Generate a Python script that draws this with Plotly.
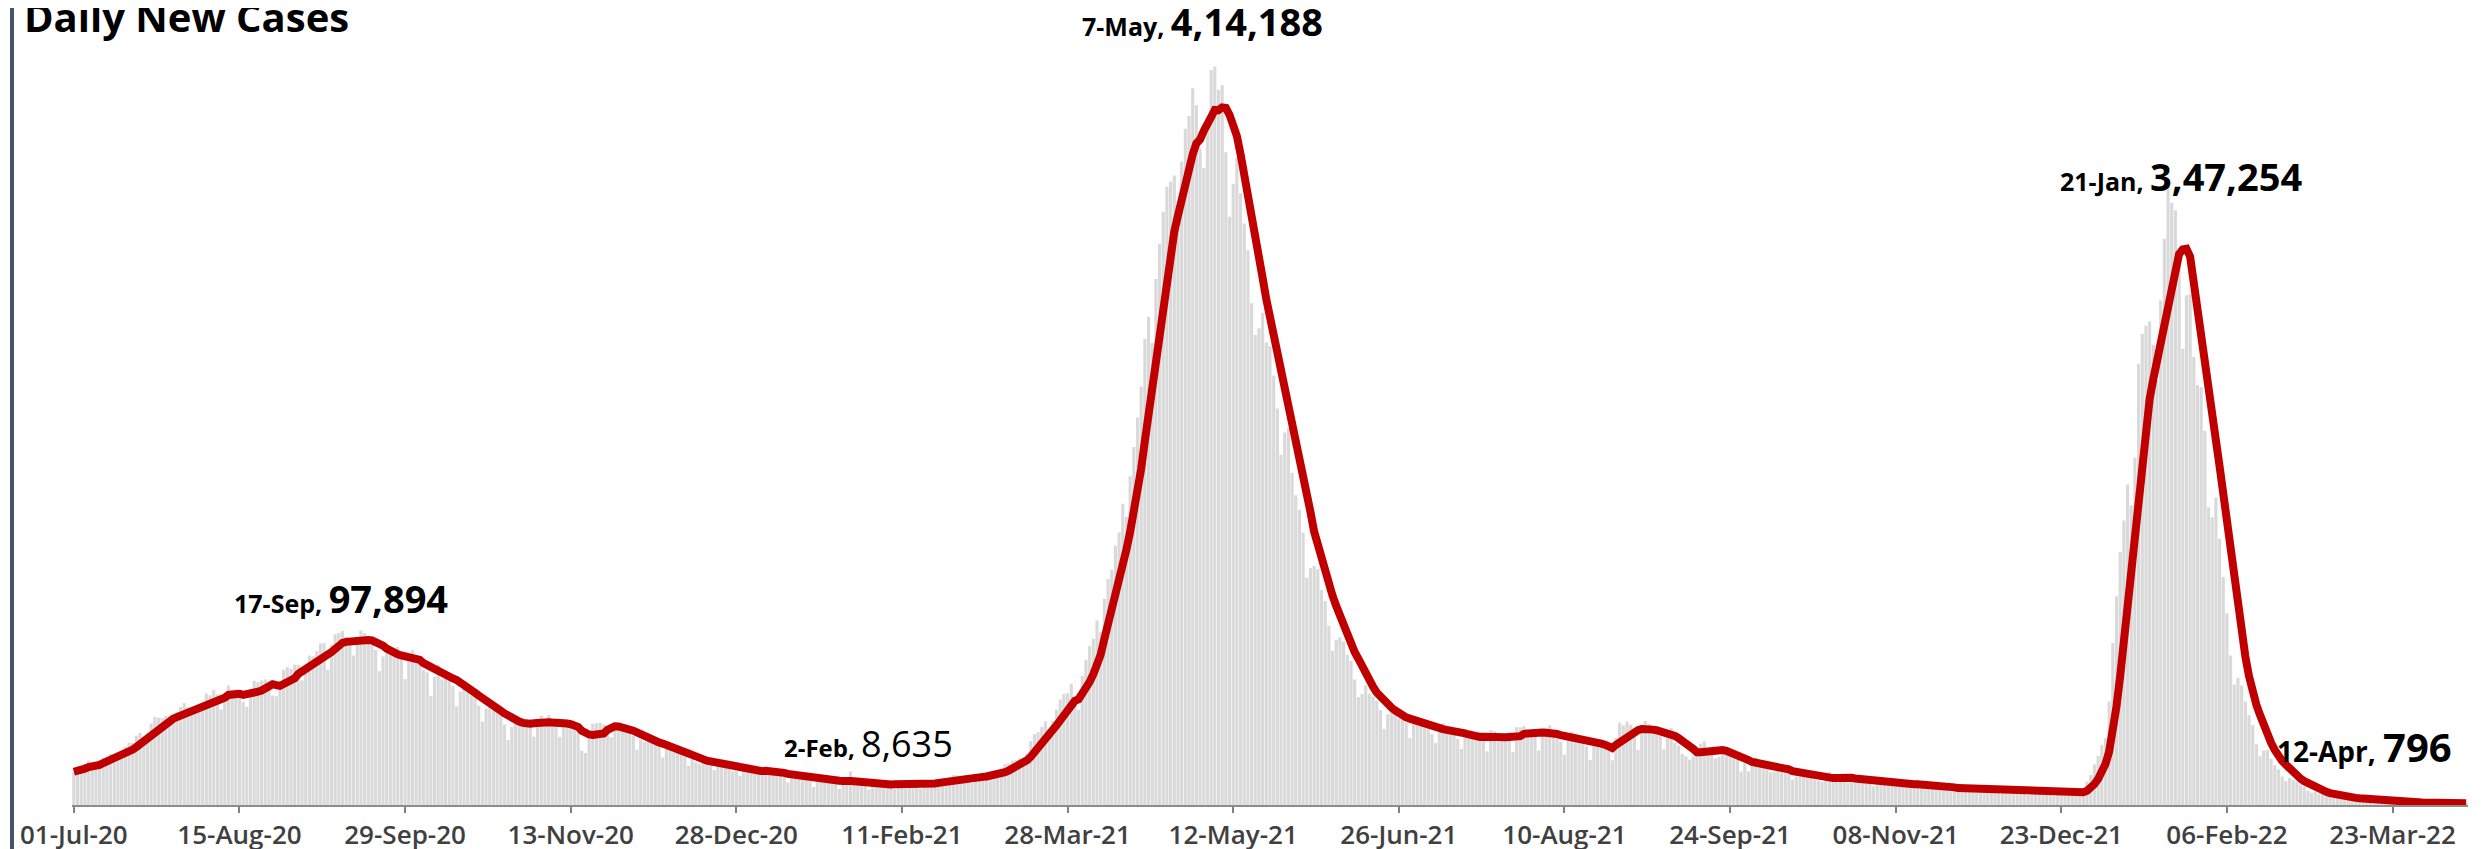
import pandas as pd
import plotly.graph_objects as go

# ---- Daily new cases (India), 01-Jul-20 .. 12-Apr-22 ----
jul20 = [18653, 19148, 20903, 22771, 24850, 22252, 22752, 24879, 26506, 27114,
         28637, 28701, 28498, 29429, 32695, 34956, 34884, 38902, 40425, 37148,
         37724, 45720, 49310, 48916, 48661, 49931, 47703, 48513, 52123, 55079,
         57118]
aug20 = [54735, 52972, 52050, 52509, 56282, 62538, 61537, 64399, 62064, 53601,
         60963, 66999, 64553, 65002, 63490, 57981, 55079, 64531, 69652, 68898,
         69878, 70488, 69239, 61408, 60975, 67151, 75760, 77266, 76472, 78761,
         78512]
sep20 = [69921, 78357, 83883, 83341, 86432, 90632, 90802, 75809, 89706, 95735,
         96551, 97570, 94372, 92071, 83809, 90123, 97894, 96424, 93337, 92605,
         86961, 75083, 83347, 86508, 86052, 85362, 88600, 82170, 70589, 80472]
oct20 = [86821, 81484, 79476, 75829, 74442, 61267, 72049, 78524, 70496, 73272,
         74383, 66732, 55342, 63509, 67708, 63371, 62212, 61871, 55722, 46790,
         54044, 55839, 54366, 53370, 50129, 45148, 36469, 43893, 49881, 48648,
         48268]
nov20 = [46963, 45231, 38310, 46253, 50210, 47638, 50357, 45674, 45903, 38073,
         44281, 47905, 44878, 44684, 41100, 30548, 29163, 38617, 45576, 45882,
         46232, 45209, 44059, 37975, 44376, 44489, 43082, 41322, 41810, 38772]
dec20 = [31118, 36604, 35551, 36595, 36652, 36011, 32981, 26567, 32080, 31521,
         29398, 30006, 30254, 27071, 22065, 26382, 24010, 22890, 25152, 26624,
         24337, 19556, 23950, 24712, 23067, 22273, 18732, 20021, 16432, 20550,
         21822]
jan21 = [20035, 19079, 18177, 16505, 18088, 20346, 18139, 18222, 18645, 16311,
         12584, 15968, 16946, 15590, 15158, 15144, 13788, 10064, 13823, 15223,
         14545, 14256, 14849, 13203, 9102, 12689, 11666, 18855, 13083, 13052,
         11629]
feb21 = [11427, 8635, 11039, 12899, 12408, 11713, 12059, 11831, 9110, 11067,
         12923, 9309, 12143, 12194, 11649, 9121, 11610, 12881, 13193, 13993,
         14264, 14199, 10584, 13742, 16738, 16577, 16488, 16752]
mar21 = [15510, 12286, 14989, 17407, 16838, 18327, 18711, 18599, 15388, 17921,
         22854, 23285, 24882, 25320, 26291, 24492, 28903, 35871, 39726, 40953,
         43846, 46951, 40715, 47262, 53476, 59118, 62258, 62714, 68020, 56211,
         53480]
apr21 = [72330, 81466, 89129, 93249, 103558, 96982, 115736, 126789, 131968, 145384,
         152879, 168912, 161736, 184372, 200739, 217353, 234692, 261500, 273810, 259170,
         295041, 314835, 332730, 346786, 349691, 352991, 323144, 360960, 379257, 386452]
may21 = [401993, 392488, 368147, 357229, 382315, 412262, 414188, 401078, 403738, 366161,
         329942, 348421, 362727, 343144, 326098, 311170, 281386, 263533, 267334, 276070,
         259551, 257299, 240842, 222315, 196427, 208921, 211298, 186364, 173790, 165553,
         152734]
jun21 = [127510, 132788, 134154, 132364, 120529, 114460, 100636, 86498, 92596, 94052,
         91702, 84332, 80834, 70421, 60471, 62224, 67208, 62480, 60753, 58419,
         53256, 42640, 50848, 54069, 51667, 48698, 50040, 46148, 37566, 45951]
jul21 = [48786, 46617, 44111, 43071, 39796, 34703, 43733, 45892, 43393, 42766,
         41506, 37154, 31443, 38792, 41806, 38949, 38079, 41157, 38164, 30093,
         42015, 41383, 35342, 39097, 39742, 39361, 29689, 43654, 43509, 44230,
         41649]
aug21 = [41831, 40134, 30549, 42625, 42982, 44643, 38628, 39070, 35499, 28204,
         38353, 41195, 40120, 38667, 36083, 32937, 25166, 35178, 36401, 36571,
         34457, 30948, 25072, 37593, 46164, 44658, 46759, 45083, 42909, 30941,
         41965]
sep21 = [47092, 45352, 42618, 42766, 38948, 31222, 37875, 43263, 34973, 33376,
         28591, 27254, 25404, 27176, 30570, 34403, 35662, 30773, 30256, 26115,
         26964, 31923, 31382, 29616, 28326, 26041, 18795, 23529, 18870, 23529]
oct21 = [26727, 24354, 22842, 20799, 18346, 18833, 22431, 21257, 19740, 18166,
         14313, 15823, 15823, 18987, 16862, 15981, 14146, 13596, 13058, 14623,
         18454, 15786, 16326, 15906, 14306, 12428, 13451, 16156, 14348, 14313,
         12830]
nov21 = [12514, 10423, 11903, 12885, 12729, 10929, 11451, 10853, 10126, 11466,
         13091, 12516, 11850, 11271, 10229, 8865, 10197, 11919, 11106, 10302,
         10488, 8488, 7579, 9283, 9119, 10549, 8318, 8774, 8309, 6990]
dec21 = [8954, 9765, 9216, 8603, 8895, 8306, 6822, 8439, 9419, 8503,
         7992, 7774, 7350, 5784, 6984, 7974, 7447, 7145, 7081, 6563,
         5326, 6317, 7495, 6650, 7189, 6987, 6531, 6358, 9195, 13154,
         16764]
jan22 = [22775, 27553, 33750, 37379, 58097, 90928, 117100, 141986, 159632, 179723,
         168063, 194720, 247417, 264202, 268833, 271202, 258089, 238018, 282970, 317532,
         347254, 337704, 333533, 306064, 255874, 285914, 286384, 251209, 235532, 234281,
         209918]
feb22 = [167059, 161386, 172433, 149394, 127952, 107474, 83876, 67597, 71365, 67084,
         58077, 50407, 44877, 34113, 27409, 30615, 30757, 25920, 22270, 19968,
         16051, 13405, 15102, 14148, 13166, 11499, 10273, 8013]
mar22 = [6915, 7554, 6561, 6396, 5921, 5476, 4362, 3993, 4575, 4184,
         4194, 3614, 3116, 2503, 2568, 2876, 2539, 2528, 2075, 1761,
         1549, 1581, 1778, 1938, 1685, 1660, 1421, 1270, 1259, 1233,
         1225]
apr22 = [1335, 1260, 1096, 913, 795, 1086, 1033, 1109, 1150, 1054, 861, 796]

START_DATE = "2020-07-01"
TITLE = "Daily New Cases"

# Callouts
callout_dates = ["2020-09-17", "2021-02-02", "2021-05-07", "2022-01-21", "2022-04-12"]
callout_small = ["17-Sep, ", "2-Feb, ", "7-May, ", "21-Jan, ", "12-Apr, "]
callout_big = ["97,894", "8,635", "4,14,188", "3,47,254", "796"]
callout_values = [97894, 8635, 414188, 347254, 796]

cases = (jul20 + aug20 + sep20 + oct20 + nov20 + dec20 + jan21 + feb21 + mar21 +
         apr21 + may21 + jun21 + jul21 + aug21 + sep21 + oct21 + nov21 + dec21 +
         jan22 + feb22 + mar22 + apr22)
dates = pd.date_range(START_DATE, periods=len(cases), freq="D")
avg7 = pd.Series(cases).rolling(7, min_periods=1).mean()

W, H = 2488, 849
ML, MR, MT, MB = 64, 28, 0, 52
PW = W - ML - MR

fig = go.Figure()
fig.add_trace(go.Bar(x=dates, y=cases, marker=dict(color="#d9d9d9", line=dict(width=0)),
                     hoverinfo="x+y", name="Daily"))
fig.add_trace(go.Scatter(x=dates, y=avg7, mode="lines",
                         line=dict(color="#c00000", width=8), name="7-day avg"))

xshifts = [-20, 0, -12, 13, -12]
yshifts = [4, 20, 17, -18, 28]
xanchors = ["center", "center", "center", "center", "right"]
small_sizes = [25, 24, 25, 25, 28]
big_sizes = [38, 36, 38, 38, 40]
bold_big = [True, False, True, True, True]
annotations = []
for d, s, b, v, xs, ys, xa, ss, bs, bb in zip(callout_dates, callout_small, callout_big,
                                              callout_values, xshifts, yshifts, xanchors,
                                              small_sizes, big_sizes, bold_big):
    big = f"<span style='font-size:{bs}px'>{b}</span>"
    if bb:
        big = f"<b>{big}</b>"
    annotations.append(dict(
        x=d, y=v, xref="x", yref="y", xanchor=xa, yanchor="bottom",
        text=f"<b>{s}</b>{big}", showarrow=False, xshift=xs, yshift=ys,
        font=dict(family="Open Sans", size=ss, color="#000000")))

annotations.append(dict(
    x=(14 - ML) / PW, y=(H - MB - MT - 38) / (H - MB - MT), xref="paper", yref="paper",
    xanchor="left", yanchor="bottom", text=f"<b>{TITLE}</b>", showarrow=False,
    font=dict(family="Open Sans", size=40, color="#000000")))

fig.update_layout(
    width=W, height=H,
    margin=dict(l=ML, r=MR, t=MT, b=MB),
    paper_bgcolor="white", plot_bgcolor="white",
    showlegend=False, bargap=0.15,
    annotations=annotations,
    shapes=[dict(type="line", xref="paper", yref="paper",
                 x0=(4 - ML) / PW, x1=(4 - ML) / PW, y0=-1, y1=2,
                 line=dict(color="#44546a", width=4))],
    xaxis=dict(
        type="date",
        range=["2020-06-30 12:00", "2022-04-12 12:00"],
        tick0=START_DATE, dtick=45 * 86400000, tickformat="%d-%b-%y",
        ticks="outside", ticklen=6, tickcolor="#7f7f7f", tickwidth=1.5,
        showline=True, linecolor="#8c8c8c", linewidth=1.5, showgrid=False,
        zeroline=False, ticklabelstandoff=0,
        tickfont=dict(family="Open Sans", size=26, weight=600, color="#404040"),
    ),
    yaxis=dict(range=[0, 447000], visible=False),
)

fig.write_html("out.html")
